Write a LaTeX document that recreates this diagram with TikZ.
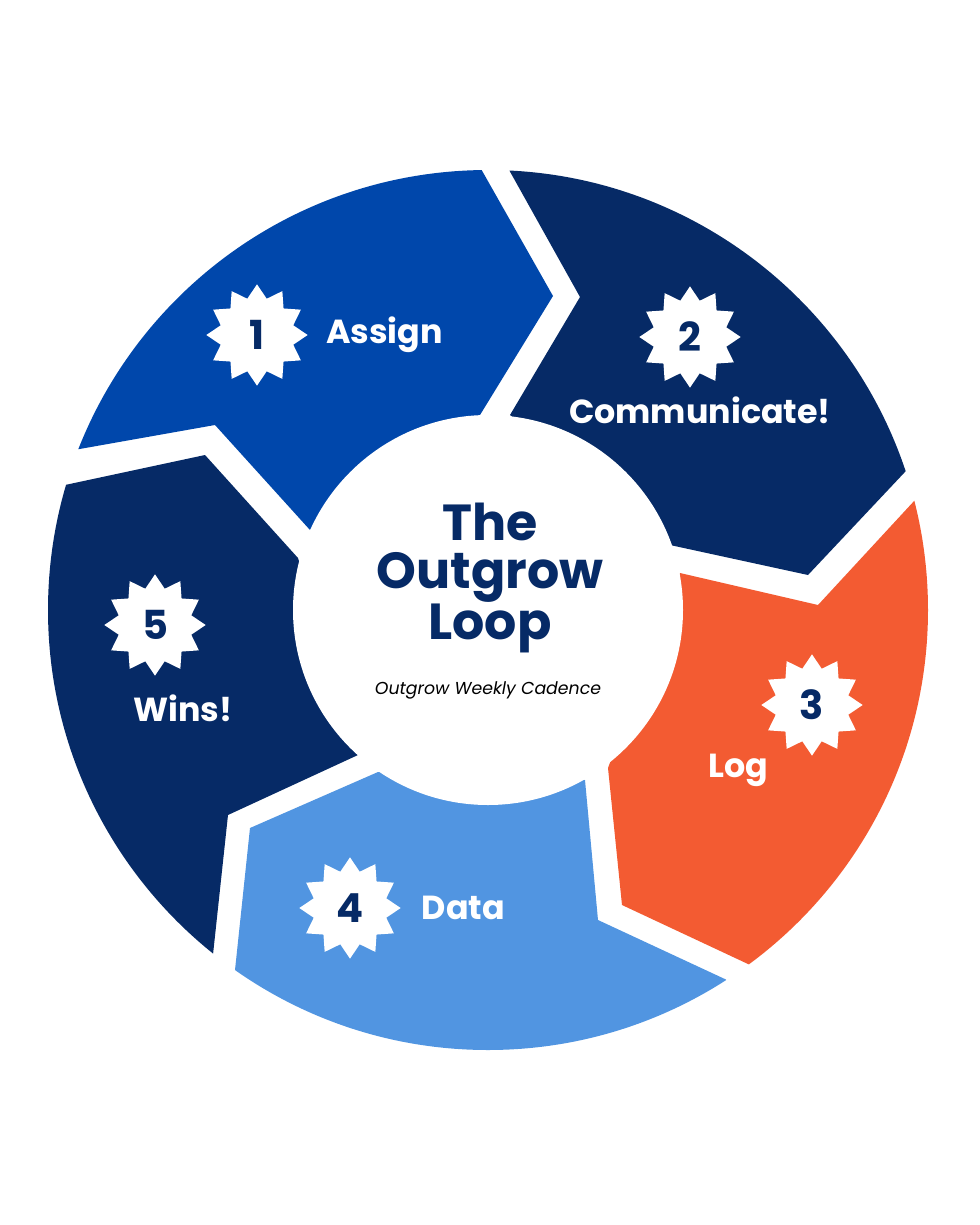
\documentclass[tikz,border=0pt]{standalone}
\usepackage{fontspec}
\setmainfont{Poppins}
\usetikzlibrary{shapes.geometric,positioning}
\definecolor{royal}{HTML}{0047AB}
\definecolor{navy}{HTML}{062A66}
\definecolor{coral}{HTML}{F35B32}
\definecolor{sky}{HTML}{5195E1}

\begin{document}
\begin{tikzpicture}[
        x=0.75pt, y=-0.75pt,
        burst/.style={star, star points=12, star point ratio=1.35, fill=white, minimum size=76pt, inner sep=0pt,
                      text=navy, font=\fontsize{30}{30}\selectfont\bfseries},
        stage/.style={text=white, font=\fontsize{25}{25}\selectfont\bfseries},
        title/.style={text=navy, align=center, font=\fontsize{38}{36}\selectfont\bfseries}
    ]
  \useasboundingbox (0,0) rectangle (980,1225);

  % Segments
  \begin{scope}
    \clip (488,610) circle [radius=330pt];
    \fill[royal] (-5,464) -- (-5,100) -- (442,100) -- (553,296) -- (480,415) -- (310,530) -- (215,425) -- cycle;
    \fill[navy] (470,100) -- (1000,100) -- (1000,371) -- (808,575) -- (670,545) -- (510,415) -- (580,297) -- cycle;
    \fill[coral] (680,573) -- (818,605) -- (1000,408) -- (1000,1082) -- (622,905) -- (608,768) -- cycle;
    \fill[sky] (378,772) -- (250,828) -- (216,1150) -- (1000,1150) -- (1000,1107) -- (598,920) -- (585,780) -- cycle;
    \fill[navy] (358,755) -- (228,815) -- (192,1150) -- (-5,1150) -- (-5,500) -- (205,455) -- (298,558) -- cycle;
  \end{scope}
  \fill[white] (488,610) circle [radius=146.25pt];

  % Nodes
  \node[burst] (one) at (257,335) {1};
  \node[stage, right=10pt of one] (assign) {Assign};
  \node[burst] (two) at (690,337) {2};
  \node[stage] (communicate) at (700,410) {Communicate!};
  \node[burst] (three) at (812,705) {3};
  \node[stage] (log) at (738,770) {Log};
  \node[burst] (four) at (350,908) {4};
  \node[stage, right=12pt of four] (data) {Data};
  \node[burst] (five) at (155,625) {5};
  \node[stage] (wins) at (183,708) {Wins!};

  \node[title] (loop) at (490,578) {The\\Outgrow\\Loop};
  \node[text=black, font=\fontsize{13}{13}\selectfont\itshape] (cadence) at (488,690) {Outgrow Weekly Cadence};
\end{tikzpicture}
\end{document}
